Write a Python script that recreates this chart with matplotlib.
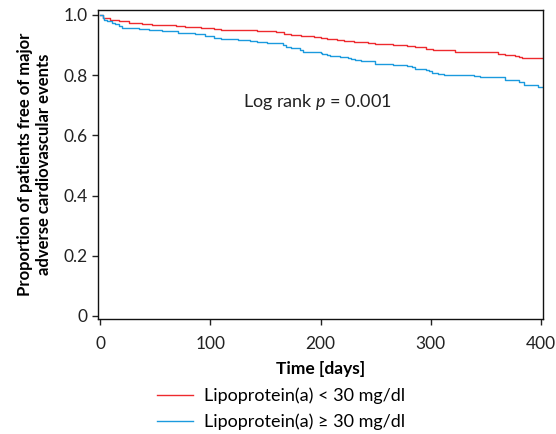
import matplotlib
matplotlib.use("Agg")
import matplotlib.pyplot as plt

# Kaplan-Meier step data (days, survival)
red_t = [0, 3, 9, 17, 26, 38, 47, 56, 69, 77, 92, 103, 110, 125, 142, 160, 167,
         173, 182, 194, 200, 206, 215, 221, 230, 243, 249, 266, 278, 286, 296,
         299, 302, 322, 345, 361, 367, 376, 380, 383, 397, 402]
red_s = [1.0, 0.988, 0.982, 0.978, 0.974, 0.971, 0.967, 0.965, 0.962, 0.959,
         0.956, 0.954, 0.950, 0.948, 0.946, 0.942, 0.937, 0.934, 0.929, 0.925,
         0.923, 0.920, 0.917, 0.914, 0.909, 0.906, 0.903, 0.901, 0.897, 0.892,
         0.888, 0.886, 0.882, 0.878, 0.875, 0.870, 0.868, 0.864, 0.861, 0.858,
         0.855, 0.855]

blue_t = [0, 3, 4, 6, 11, 14, 17, 20, 35, 44, 56, 71, 86, 95, 103, 110, 125,
          136, 142, 151, 166, 169, 173, 181, 184, 200, 201, 206, 209, 218, 225,
          228, 231, 237, 243, 249, 266, 278, 283, 286, 296, 298, 301, 307, 312,
          339, 345, 367, 380, 385, 397, 402]
blue_s = [1.0, 0.988, 0.982, 0.978, 0.972, 0.968, 0.963, 0.957, 0.954, 0.949,
          0.946, 0.940, 0.935, 0.928, 0.924, 0.919, 0.915, 0.912, 0.909, 0.905,
          0.900, 0.894, 0.890, 0.884, 0.878, 0.873, 0.869, 0.866, 0.864, 0.860,
          0.856, 0.853, 0.850, 0.848, 0.845, 0.838, 0.834, 0.831, 0.827, 0.821,
          0.816, 0.815, 0.807, 0.804, 0.801, 0.797, 0.793, 0.785, 0.776, 0.768,
          0.760, 0.760]

labels = ["Lipoprotein(a) < 30 mg/dl", "Lipoprotein(a) \u2265 30 mg/dl"]
xticks = [0, 100, 200, 300, 400]
yticks = [0, 0.2, 0.4, 0.6, 0.8, 1.0]
yticklabels = ["0", "0.2", "0.4", "0.6", "0.8", "1.0"]

plt.rcParams["font.family"] = ["Lato", "DejaVu Sans"]
plt.rcParams["mathtext.fontset"] = "custom"
plt.rcParams["mathtext.it"] = "Lato:italic"
plt.rcParams["mathtext.rm"] = "Lato"

fig = plt.figure(figsize=(5.56, 4.34), dpi=100)
ax = fig.add_axes([0.176, 0.265, 0.801, 0.712])

ax.step(red_t, red_s, where="post", color="#ee2a2e", lw=1.0, label=labels[0])
ax.step(blue_t, blue_s, where="post", color="#1b9ade", lw=1.0, label=labels[1])

ax.set_xlim(-2, 402)
ax.set_ylim(-0.01, 1.016)
ax.set_xticks(xticks)
ax.set_yticks(yticks)
ax.set_yticklabels(yticklabels)
ax.tick_params(direction="out", length=4, width=1, labelsize=12.5, colors="#222222")
ax.tick_params(axis="x", pad=8)
for sp in ax.spines.values():
    sp.set_linewidth(1.0)
    sp.set_color("#111111")

ax.set_xlabel("Time [days]", fontsize=12.5, fontweight="bold", labelpad=7)
ax.set_ylabel("Proportion of patients free of major\nadverse cardiovascular events",
              fontsize=12, fontweight="bold", labelpad=8, linespacing=1.2)

ax.text(197, 0.712, "Log rank $p$ = 0.001", fontsize=13, ha="center", va="center",
        color="#222222")

fig.legend(loc="center", bbox_to_anchor=(0.505, 0.058), frameon=False,
           fontsize=13, handlelength=2.0, labelspacing=0.5, handletextpad=0.6)

fig.savefig("out.png", dpi=100)
